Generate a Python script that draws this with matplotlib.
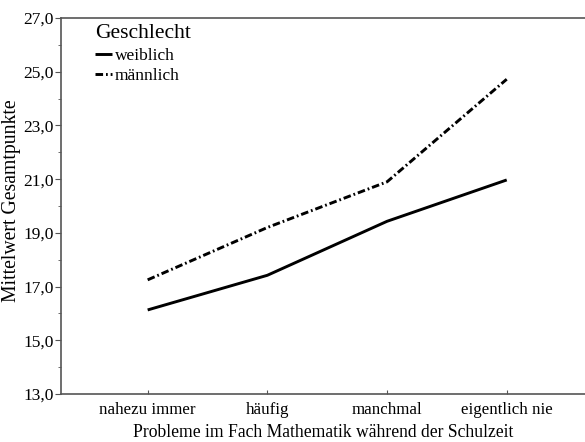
import numpy as np
import matplotlib.pyplot as plt

categories = ['nahezu immer', 'häufig', 'manchmal', 'eigentlich nie']
weiblich = [16.13, 17.42, 19.43, 20.97]
maennlich = [17.25, 19.2, 20.9, 24.72]
yticks = [13, 15, 17, 19, 21, 23, 25, 27]

plt.rcParams['font.family'] = ['Liberation Serif', 'DejaVu Serif']

fig = plt.figure(figsize=(5.85, 4.42), dpi=100)
ax = fig.add_axes([61/585, 1-394/442, 1-61/585, (394-18)/442])

x = np.arange(len(categories))
ax.plot(x, weiblich, color='black', lw=2.1, label='weiblich', solid_capstyle='butt')
ax.plot(x, maennlich, color='black', lw=2.1, label='männlich',
        linestyle=(0, (2.6, 1.0, 0.6, 1.0)), dash_capstyle='butt')

ax.set_xlim(-0.724, 3.654)
ax.set_ylim(13, 27)
ax.set_xticks(x)
ax.set_xticklabels(categories, fontsize=12.2)
ax.set_yticks(yticks)
ax.set_yticklabels([f'{v:.1f}'.replace('.', ',') for v in yticks], fontsize=12.5)
ax.set_yticks(np.arange(14, 27, 2), minor=True)
ax.tick_params(axis='y', which='major', direction='out', length=4, color='#555555', pad=1)
ax.tick_params(axis='y', which='minor', direction='out', length=2, color='#555555')
ax.tick_params(axis='x', direction='in', length=3, color='#555555', pad=6)

for s in ['top', 'bottom', 'left']:
    ax.spines[s].set_color('#555555')
    ax.spines[s].set_linewidth(1.2)
ax.spines['right'].set_visible(False)

ax.set_xlabel('Probleme im Fach Mathematik während der Schulzeit', fontsize=12.7, labelpad=4)
ax.set_ylabel('Mittelwert Gesamtpunkte', fontsize=14.2)
ax.yaxis.set_label_coords(-0.076, 0.513)

leg = ax.legend(title='Geschlecht', loc='upper left', bbox_to_anchor=(0.035, 1.025),
                frameon=False, fontsize=12.5, title_fontsize=15.5,
                handlelength=1.0, handletextpad=0.15, labelspacing=0.25)
leg._legend_box.align = 'left'

fig.savefig('out.png', dpi=100)
